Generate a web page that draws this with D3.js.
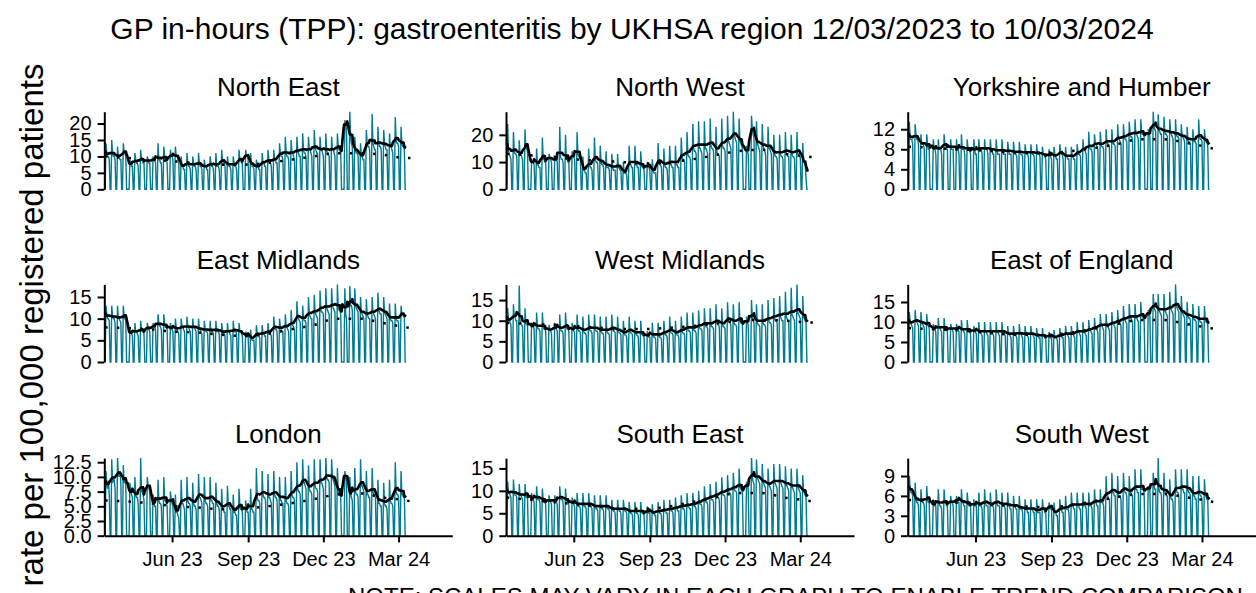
<!DOCTYPE html>
<html>
<head>
<meta charset="utf-8">
<title>GP in-hours gastroenteritis</title>
<style>
  body { margin: 0; background: #fff; }
  svg text { font-family: "Liberation Sans", Arial, sans-serif; fill: #000; }
</style>
</head>
<body>
<div id="chart"></div>
<script src="https://cdn.jsdelivr.net/npm/d3@7"></script>
<script>
// daily rates per 100,000, one row per week (Sun Mon Tue Wed Thu Fri Sat), from Sun 12/03/2023
const northEast = `
0 14 11 10 10 9 0
0 15 11 10 10 9 0
0 13 10 10 9 9 0
0 14 11 11 10 0 0
0 0 9 8 7 7 0
0 11 9 8 8 7 0
0 12 9 9 8 8 0
0 0 10 9 8 8 0
0 0 10 9 9 8 0
0 14 9 9 8 8 0
0 13 10 9 9 8 0
0 0 12 10 10 9 0
0 13 10 10 9 9 0
0 10 7 7 6 6 0
0 11 8 7 7 6 0
0 10 8 7 7 6 0
0 11 8 7 7 6 0
0 9 7 7 6 6 0
0 10 8 7 7 6 0
0 11 7 7 7 6 0
0 12 9 8 8 7 0
0 10 8 7 7 6 0
0 10 8 7 7 6 0
0 12 9 9 8 8 0
0 0 12 10 10 9 0
0 11 8 7 7 6 0
0 9 7 7 6 6 0
0 11 8 8 7 7 0
0 12 9 8 8 7 0
0 12 9 9 8 8 0
0 14 11 10 10 9 0
0 16 11 10 10 9 0
0 15 11 11 10 9 0
0 16 12 11 10 10 0
0 17 12 11 11 10 0
0 16 12 12 11 10 0
0 18 13 12 11 11 0
0 16 12 12 11 10 0
0 17 12 11 11 10 0
0 16 12 12 11 10 0
0 17 13 12 12 11 0
0 0 0 21 20 18 0
0 0 23.6 16 14 13 0
0 16 12 11 11 10 0
0 14 10 10 9 9 0
0 18 14 13 13 12 0
0 23 14 13 12 12 0
0 19 14 13 13 12 0
0 18 14 13 12 12 0
0 17 13 13 12 11 0
0 22 15 14 14 13 0
0 19 14 13 13 12 0
0`;

const northWest = `
0 24 14 13 12 11 0
0 21 14 13 13 12 0
0 18 13 13 12 11 0
0 22 15 15 14 0 0
0 0 11 10 10 9 0
0 15 9 9 8 8 0
0 19 11 11 10 10 0
0 0 13 12 11 10 0
0 0 12 11 11 10 0
0 23 12 11 11 10 0
0 20 11 11 10 10 0
0 0 14 12 12 11 0
0 21 13 12 12 11 0
0 12 7 7 6 6 0
0 15 9 8 8 7 0
0 19 11 10 10 9 0
0 16 10 9 9 8 0
0 14 8 8 8 7 0
0 13 8 7 7 7 0
0 13 8 8 7 7 0
0 10 6 6 6 5 0
0 16 9 9 8 8 0
0 16 9 9 8 8 0
0 14 9 8 8 7 0
0 0 10 9 8 7 0
0 11 7 6 6 6 0
0 17 10 9 9 8 0
0 15 9 8 8 7 0
0 16 9 9 8 8 0
0 16 9 9 8 8 0
0 19 12 11 11 10 0
0 21 13 12 12 11 0
0 24 15 14 14 13 0
0 25 15 15 14 13 0
0 25 15 15 14 13 0
0 26 16 15 15 14 0
0 23 14 13 13 12 0
0 26 16 15 15 14 0
0 27 18 17 16 15 0
0 28.5 20 19 18 17 0
0 26 18 17 16 15 0
0 0 0 16 14 13 0
0 0 27 22 20 19 0
0 25 17 16 15 14 0
0 24 16 15 14 13 0
0 23 15 15 14 13 0
0 20 13 12 12 11 0
0 20 13 12 12 11 0
0 21 13 13 12 12 0
0 20 13 12 12 11 0
0 21 13 13 12 12 0
0 17 11 10 9 4 0
0`;

const yorkshire = `
0 13.5 10 10 10 9 0
0 13 11 10 10 9 0
0 11 9 9 9 8 0
0 11 9 8 8 0 0
0 0 10 8 8 7 0
0 10 8 8 8 7 0
0 11 9 9 8 8 0
0 0 10 8 8 8 0
0 0 10 8 8 7 0
0 11 8 8 8 7 0
0 10 8 8 8 7 0
0 0 10 8 7 7 0
0 10 8 8 8 7 0
0 10 8 8 8 7 0
0 10 8 8 7 7 0
0 10 8 7 7 7 0
0 10 8 7 7 7 0
0 9.5 8 7 7 7 0
0 9.5 7.5 7 7 6.5 0
0 9.5 7.5 7 7 6.5 0
0 9 7.5 7 7 6.5 0
0 9 7.5 7 7 6.5 0
0 9 7 7 7 6.5 0
0 8.5 7 7 6.5 6 0
0 0 8 7 6.5 6 0
0 8.5 7 6.5 6 6 0
0 9 7.5 7 7 6 0
0 8.5 6.5 6.5 6 6 0
0 8.5 6.5 6.5 6 6 0
0 9 7.5 7 7 6.5 0
0 10 8 8 7.5 7 0
0 11.5 8.5 8 8 7.5 0
0 11 9 9 8.5 8 0
0 11.5 9 8.5 8.5 8 0
0 12 9.5 9 9 8.5 0
0 12 9.5 9 9 8.5 0
0 13 10 10 9.5 9 0
0 13 10.5 10 10 9.5 0
0 13.5 11 10.5 10.5 10 0
0 14 11 11 10.5 10 0
0 14 11.5 11 11 10.5 0
0 0 0 12 11 10.5 0
0 0 15.5 12.5 12 11.5 0
0 15 12 11.5 11 11 0
0 14.5 11.5 11 11 10.5 0
0 14 11.5 11 10.5 10 0
0 14 11 10.5 10.5 10 0
0 13 10.5 10.5 10 9.5 0
0 12.5 10 9.5 9.5 9 0
0 12 10 9.5 9.5 9 0
0 14 10.5 10 10 9.5 0
0 12 10 9.5 9.5 8.5 0
0`;

const eastMidlands = `
0 13 11 10 10 9.5 0
0 13 10.5 10 10 9 0
0 13 10 10 9.5 9 0
0 13 10.5 10 9.5 0 0
0 0 7.5 7 6.5 6 0
0 9 7 7 6.5 6 0
0 9.5 7.5 7 7 6.5 0
0 0 9 8 7.5 7 0
0 0 9 8.5 8 7.5 0
0 11 9 8.5 8 7.5 0
0 11 8.5 8 8 7.5 0
0 0 9 8 7.5 7 0
0 10 8 7.5 7 6.5 0
0 10 8 8 7.5 7 0
0 10.5 8 8 7.5 7 0
0 10 8 8 7.5 7 0
0 10 7.5 7.5 7 6.5 0
0 9.5 7.5 7 7 6.5 0
0 9.5 7 7 7 6.5 0
0 9.5 7 7 7 6.5 0
0 9 7 6.5 6.5 6 0
0 9 7 7 6.5 6 0
0 9.5 7 7 7 6.5 0
0 9 7 7 6.5 6 0
0 0 7 6.5 6 6 0
0 7.5 5.5 5 5 5 0
0 8.5 6.5 6 6 5.5 0
0 8.5 6.5 6.5 6 6 0
0 9 7 6.5 6.5 6 0
0 10.5 8 7.5 7.5 7 0
0 10 8 7.5 7 7 0
0 11 8 8 7.5 7 0
0 12 9 8.5 8 7.5 0
0 14 10.5 10 9.5 9 0
0 13 10 9.5 9.5 9 0
0 15 11 10.5 10 10 0
0 15.5 11.5 11 10.5 10 0
0 16.5 12 11.5 11.5 11 0
0 17 12.5 12 11.5 11 0
0 17 13 12.5 12 11.5 0
0 17.9 12.5 12 12 11 0
0 0 0 17 11 10 0
0 0 17.5 13 13 12 0
0 17 13 12.5 12 11.5 0
0 15 11.5 11 10.5 10 0
0 14.5 11 10.5 10 10 0
0 15 11.5 11 10.5 10 0
0 16 12 11.5 11 11 0
0 15 11.5 11 10.5 10 0
0 13.5 10 9.5 9.5 9 0
0 13.5 10 9.5 9.5 9 0
0 13 11 11 10.5 10.5 0
0`;

const westMidlands = `
0 13 10 10 9.5 9 0
0 14 11 11 10 10 0
0 18.5 10 9.5 9 8.5 0
0 13 9.5 9 9 0 0
0 0 9.5 9 8.5 8 0
0 12 8.5 8 8 7.5 0
0 12 8.5 8 8 7.5 0
0 0 9 8 7.5 7 0
0 0 9.5 8.5 8 7.5 0
0 11.5 8 7.5 7.5 7 0
0 12 8.5 8 8 7.5 0
0 0 9.5 8 7.5 7 0
0 11.5 8 7.5 7.5 7 0
0 11 7.5 7 7 6.5 0
0 11.5 8 7.5 7.5 7 0
0 11.5 8 7.5 7.5 7 0
0 11 7.5 7 7 6.5 0
0 11 7.5 7 7 6.5 0
0 11.5 8 7.5 7.5 7 0
0 11 7.5 7 7 6.5 0
0 10 7 6.5 6.5 6 0
0 11 7.5 7 7 6.5 0
0 10 7 6.5 6.5 6 0
0 10 7 6.5 6.5 6 0
0 0 7.5 6.5 6 6 0
0 9.5 6.5 6 6 5.5 0
0 9.5 6.5 6 6 5.5 0
0 10 7 6.5 6.5 6 0
0 11 7.5 7 7 6.5 0
0 10 7 6.5 6.5 6 0
0 11 7.5 7 7 6.5 0
0 12 8 7.5 7.5 7 0
0 12 8 7.5 7.5 7 0
0 12.5 8.5 8 8 7.5 0
0 13 9 8.5 8.5 8 0
0 13 9 8.5 8.5 8 0
0 14 9.5 9 9 8.5 0
0 13 9 8.5 8.5 8 0
0 14.5 10 9.5 9.5 9 0
0 14 9.5 9 9 8.5 0
0 14.5 10 9.5 9.5 9 0
0 0 0 11 9.5 9 0
0 0 15 10.5 10 9.5 0
0 14 9.5 9 9 8.5 0
0 14 9.5 9 9 8.5 0
0 15 10 9.5 9.5 9 0
0 15.5 10.5 10 10 9.5 0
0 16 11 10.5 10 10 0
0 17 11 10.5 10 10 0
0 18 11.5 11 10.5 10 0
0 18.8 12 11.5 11 10.5 0
0 16 11 10.5 10 9.5 0
0`;

const eastOfEngland = `
0 12.5 10 9.5 9 8.5 0
0 13 10.5 10 9.5 9 0
0 12.5 10 9.5 9 8.5 0
0 12 9.5 9 8.5 0 0
0 0 9.5 8.5 8 7.5 0
0 11 8.5 8.5 8 7.5 0
0 11 8.5 8.5 8 7.5 0
0 0 9.5 8.5 8 7.5 0
0 0 9.5 8.5 8 7.5 0
0 10.5 8 8 7.5 7 0
0 10.5 8 8 7.5 7 0
0 0 9 8 7.5 7 0
0 10 7.5 7.5 7 6.5 0
0 10 7.5 7.5 7 6.5 0
0 10 7.5 7.5 7 6.5 0
0 10 7.5 7.5 7 6.5 0
0 10 7.5 7.5 7 6.5 0
0 9 7 7 6.5 6 0
0 9 7 7 6.5 6 0
0 9.5 7 7 6.5 6 0
0 9 7 7 6.5 6 0
0 9 7 7 6.5 6 0
0 8.5 6.5 6.5 6 6 0
0 8.5 6.5 6.5 6 6 0
0 0 7.5 6.5 6 6 0
0 8 6 6 6 5.5 0
0 8.5 6.5 6.5 6 6 0
0 9 7 7 6.5 6 0
0 9 7 7 6.5 6 0
0 10 7.5 7.5 7 6.5 0
0 10 7.5 7.5 7 6.5 0
0 10.5 8 8 7.5 7 0
0 11 8.5 8.5 8 7.5 0
0 12 9 9 8.5 8 0
0 12 9 9 8.5 8 0
0 12.5 9.5 9.5 9 8.5 0
0 13 10 10 9.5 9 0
0 14 10.5 10.5 10 9.5 0
0 14.5 11 11 10.5 10 0
0 14.5 11 11 10.5 10 0
0 15 11.5 11.5 11 10.5 0
0 0 0 13 12 11.5 0
0 0 17 13.5 13 12.5 0
0 17 13 12.5 12 11.5 0
0 17 13 12.5 12 11.5 0
0 17.5 13.5 13 12.5 12 0
0 19.4 14 13.5 13 12.5 0
0 16.5 12.5 12 11.5 11 0
0 15 11.5 11 11 10.5 0
0 14.5 11 10.5 10.5 10 0
0 14 10.5 10 10 9.5 0
0 14 10.5 10 10 9.5 0
0`;

const london = `
0 11 9 8 9 7 0
0 13 9 10 9.5 8 0
0 13.2 10.5 10 11 9 0
0 12 9 9.5 8.5 0 0
0 0 9 7.5 7 6.5 0
0 10 7 6.5 6.5 5.5 0
0 13.2 7.5 7.5 7 6 0
0 0 10 8.5 8 7.5 0
0 0 7 5.5 5 5 0
0 9.5 6 5.5 5.5 5 0
0 10 6 6 5.5 5 0
0 0 7.5 6 5.5 5 0
0 7 4 4 3.5 3 0
0 9.5 5.5 5.5 5 4.5 0
0 10 6 5.5 5.5 5 0
0 9 5.5 5 5 4.5 0
0 10.5 6.5 6.5 6 5.5 0
0 10 6 5.5 5.5 5 0
0 10 6 6 5.5 5.5 0
0 9 5.5 5 5 4.5 0
0 8 4.5 4.5 4 4 0
0 8.5 5 5 4.5 4.5 0
0 7 4 4 3.5 3.5 0
0 8 5 4.5 4.5 4 0
0 0 6 4.5 4 4 0
0 8 4.5 4.5 4 4 0
0 11.5 6.5 6 6 5.5 0
0 11 7 6.5 6.5 6 0
0 10.5 6.5 6.5 6 5.5 0
0 11 7 6.5 6.5 6 0
0 10 6 6 5.5 5.5 0
0 10 6 5.5 5.5 5 0
0 11 7 6.5 6.5 6 0
0 12.5 8 7.5 7.5 7 0
0 13 9 9 8.5 8 0
0 12 8 7.5 7.5 7 0
0 13 8.5 8 8 7.5 0
0 13 9 9 8.5 8 0
0 13.2 10 9.5 9.5 9 0
0 13 10 9.5 9 8.5 0
0 11.5 7.5 7 7 6.5 0
0 0 0 11 10 9.5 0
0 0 10 7 6.5 6 0
0 11.5 7.5 7 7 6.5 0
0 13 8.5 8.5 8 7.5 0
0 11 7 7 6.5 6.5 0
0 11.5 7.5 7 7 6.5 0
0 9.5 5.5 5.5 5 5 0
0 9 5.5 5 5 4.5 0
0 9.5 6 5.5 5.5 5 0
0 12.5 7.5 7 7 6.5 0
0 11 7 7 6.5 6.5 0
0`;

const southEast = `
0 12 9.5 9.5 9 8.5 0
0 12.5 9.5 9 9 8.5 0
0 11.5 9 9 8.5 8 0
0 11.5 9 8.5 8.5 0 0
0 0 9.5 8.5 8 7.5 0
0 11 8.5 8 8 7.5 0
0 10.5 8 7.5 7.5 7 0
0 0 9 8 7.5 7 0
0 0 9 8 7.5 7 0
0 11 8.5 8 8 7.5 0
0 10.5 8 7.5 7.5 7 0
0 0 8.5 7.5 7 6.5 0
0 9.5 7 6.5 6.5 6 0
0 9.5 7 6.5 6.5 6 0
0 9.5 7 6.5 6.5 6 0
0 9 6.5 6 6 5.5 0
0 9 6.5 6 6 5.5 0
0 9 6.5 6 6 5.5 0
0 8 6 5.5 5.5 5 0
0 8 6 5.5 5.5 5 0
0 8 6 5.5 5.5 5 0
0 7.5 5.5 5 5 4.5 0
0 7.5 5.5 5 5 4.5 0
0 7.5 5.5 5 5 4.5 0
0 0 6.5 5.5 5 5 0
0 7 5 5 4.5 4.5 0
0 7.5 5.5 5 5 4.5 0
0 8 5.5 5.5 5 5 0
0 8 6 5.5 5.5 5 0
0 8.5 6 6 5.5 5.5 0
0 9 6.5 6 6 5.5 0
0 9.5 6.5 6.5 6 6 0
0 9.5 7 6.5 6.5 6 0
0 10 7.5 7 7 6.5 0
0 11 8 7.5 7.5 7 0
0 11.5 8.5 8 8 7.5 0
0 12 9 8.5 8.5 8 0
0 13 9.5 9 9 8.5 0
0 13.5 10 9.5 9.5 9 0
0 14 10.5 10 10 9.5 0
0 15 11 10.5 10 10 0
0 0 0 12 11 10.5 0
0 0 17.3 13 12 11.5 0
0 17 13 12.5 12 11.5 0
0 16 12 11.5 11 10.5 0
0 15 11.5 11 10.5 10 0
0 16 12 11.5 11 10.5 0
0 16 12 11.5 11 10.5 0
0 15.5 11.5 11 10.5 10 0
0 15 11 10.5 10 9.5 0
0 15 11 10.5 10 9.5 0
0 13.5 10 9.5 9 8.5 0
0`;

const southWest = `
0 9 7 6.5 6.5 6 0
0 8 5.5 5 5 4.5 0
0 7 5.5 5 5 4.5 0
0 7.5 5.5 5 5 0 0
0 0 5.5 4.5 4.5 4.5 0
0 7 5 4.5 4.5 4 0
0 7 5 5 4.5 4.5 0
0 0 6 5 5 4.5 0
0 0 6 5.5 5 5 0
0 7 5 5 4.5 4.5 0
0 6.5 5 4.5 4.5 4.5 0
0 0 5.5 4.5 4.5 4.5 0
0 6.5 4.5 4.5 4.5 4 0
0 7 5 4.5 4.5 4.5 0
0 6.5 4.5 4.5 4.5 4 0
0 7 5 4.5 4.5 4.5 0
0 6.5 4.5 4.5 4.5 4 0
0 6.5 4.5 4.5 4 4 0
0 6 4.5 4.5 4 4 0
0 6 4 4 4 3.5 0
0 5.5 4 4 3.5 3.5 0
0 5.5 4 4 3.5 3.5 0
0 5.5 3.5 3.5 3.5 3.5 0
0 5.5 4 4 3.5 3.5 0
0 0 5 4.5 4 4 0
0 5 3.5 3.5 3 3 0
0 5.5 4 4 3.5 3.5 0
0 6 4 4 4 3.5 0
0 6.5 4.5 4.5 4 4 0
0 6.5 4.5 4.5 4 4 0
0 6.5 4.5 4.5 4.5 4 0
0 6.5 4.5 4.5 4.5 4 0
0 7 5 5 4.5 4.5 0
0 7 5 5 5 4.5 0
0 9 6 6 5.5 5.5 0
0 9.5 6.5 6.5 6 6 0
0 9 6 6 6 5.5 0
0 9.5 7 6.5 6.5 6 0
0 9 6.5 6.5 6 6 0
0 10 7 7 6.5 6.5 0
0 10 7 7 7 6.5 0
0 0 0 7.5 7 7 0
0 0 9.5 7.5 7 7 0
0 11.7 7 6.5 6.5 6 0
0 9.5 6.5 6.5 6 6 0
0 8.5 6 5.5 5.5 5 0
0 10 7 6.5 6.5 6 0
0 10 7 7 6.5 6.5 0
0 10 7 6.5 6.5 6 0
0 9 6 6 5.5 5.5 0
0 9 6.5 6 6 5.5 0
0 8.5 6 6 5.5 5.5 0
0`;

// baseline (dotted), every 4 weeks from 12/03/2023, last point two weeks past the data
const baselineWeeks = [0, 4, 8, 12, 16, 20, 24, 28, 32, 36, 40, 44, 48, 52, 54];
const baseNE  = [10, 9.5, 9, 8.5, 8, 7.5, 7.5, 8, 9, 10, 11, 11, 10.5, 9.5, 9.5];
const baseNW  = [13, 12.5, 12, 11, 10.5, 10, 9.5, 10, 11, 12.5, 14, 14.5, 13, 12, 11.5];
const baseYH  = [8.5, 8.3, 8, 7.8, 7.5, 7.3, 7.3, 7.6, 8.2, 9, 10, 10, 9.3, 8.3, 7.7];
const baseEM  = [8, 7.8, 7.5, 7, 6.8, 6.3, 6, 6.5, 7.5, 8.5, 10, 10, 9, 8, 7.6];
const baseWM  = [9.5, 9.2, 9, 8.7, 8.3, 8, 8, 8.3, 8.7, 9.3, 10, 10.2, 10, 9.6, 9.5];
const baseEoE = [8.5, 8.2, 8, 7.5, 7, 6.8, 6.8, 7.3, 8.3, 9.5, 10.5, 10.5, 9.5, 8.5, 8];
const baseLon = [6, 5.8, 5.5, 5, 4.8, 4.5, 4.6, 5, 5.5, 6.2, 7, 7.2, 6.5, 6, 5.6];
const baseSE  = [8.5, 8, 7.5, 7, 6.5, 6, 6, 6.5, 7.5, 8.5, 9.5, 9.5, 8.5, 7.8, 7.4];
const baseSW  = [5.4, 5.2, 5, 4.8, 4.6, 4.4, 4.3, 4.6, 5.2, 5.8, 6.3, 6.3, 5.8, 5.2, 4.8];

const regionNames = ["North East", "North West", "Yorkshire and Humber",
  "East Midlands", "West Midlands", "East of England",
  "London", "South East", "South West"];
const dailySeries = [northEast, northWest, yorkshire, eastMidlands, westMidlands,
  eastOfEngland, london, southEast, southWest];
const baselines = [baseNE, baseNW, baseYH, baseEM, baseWM, baseEoE, baseLon, baseSE, baseSW];
const yTickSets = [[0, 5, 10, 15, 20], [0, 10, 20], [0, 4, 8, 12],
  [0, 5, 10, 15], [0, 5, 10, 15], [0, 5, 10, 15],
  [0, 2.5, 5, 7.5, 10, 12.5], [0, 5, 10, 15], [0, 3, 6, 9]];
const bankHolidays = ["2023-04-07", "2023-04-10", "2023-05-01", "2023-05-08", "2023-05-29",
  "2023-08-28", "2023-12-25", "2023-12-26", "2024-01-01"];
const xTickDates = ["2023-06-01", "2023-09-01", "2023-12-01", "2024-03-01"];

const TEAL = "#007b91";
const DAY = 864e5;
const START = Date.UTC(2023, 2, 12);

const W = 1256, H = 593;
const colX = [104.3, 506, 907.7];
const rowBottom = [189.3, 362, 535.7];
const panelW = 348, panelH = 77.6;

const svg = d3.select("#chart").append("svg")
  .attr("width", W).attr("height", H);

svg.append("text")
  .attr("x", 632).attr("y", 39)
  .attr("text-anchor", "middle")
  .style("font-size", "30px")
  .text("GP in-hours (TPP): gastroenteritis by UKHSA region 12/03/2023 to 10/03/2024");

svg.append("text")
  .attr("transform", "translate(43,325) rotate(-90)")
  .attr("text-anchor", "middle")
  .style("font-size", "33px")
  .text("rate per 100,000 registered patients");

svg.append("text")
  .attr("x", 348).attr("y", 605)
  .style("font-size", "24px")
  .text("NOTE: SCALES MAY VARY IN EACH GRAPH TO ENABLE TREND COMPARISON");

const x = d3.scaleUtc()
  .domain([new Date(Date.UTC(2023, 2, 11)), new Date(Date.UTC(2024, 4, 5))])
  .range([0, panelW]);

const bhSet = new Set(bankHolidays);
const fmtDay = d3.utcFormat("%Y-%m-%d");

regionNames.forEach(function (name, i) {
  const col = i % 3, row = Math.floor(i / 3);
  const vals = dailySeries[i].trim().split(/\s+/).map(Number);
  const days = vals.map(function (v, k) {
    const date = new Date(START + k * DAY);
    const wd = date.getUTCDay();
    return { date: date, value: v, working: wd > 0 && wd < 6 && !bhSet.has(fmtDay(date)) };
  });
  // 7 day moving average of the working days around each date
  days.forEach(function (d, k) {
    const win = days.slice(Math.max(0, k - 3), k + 4).filter(function (e) { return e.working; });
    d.avg = win.length ? d3.mean(win, function (e) { return e.value; }) : null;
  });
  const base = baselines[i].map(function (v, k) {
    return { date: new Date(START + baselineWeeks[k] * 7 * DAY), value: v };
  });

  const yMax = d3.max(vals);
  const y = d3.scaleLinear().domain([0, yMax]).range([panelH, 0]);

  const g = svg.append("g")
    .attr("transform", "translate(" + colX[col] + "," + (rowBottom[row] - panelH) + ")");

  g.append("text")
    .attr("x", panelW / 2).attr("y", -15.5)
    .attr("text-anchor", "middle")
    .style("font-size", "26px")
    .text(name);

  g.append("path")
    .datum(days)
    .attr("fill", "none")
    .attr("stroke", TEAL)
    .attr("stroke-width", 1.4)
    .attr("d", d3.line()
      .x(function (d) { return x(d.date); })
      .y(function (d) { return y(d.value); }));

  g.append("path")
    .datum(base)
    .attr("fill", "none")
    .attr("stroke", "#000")
    .attr("stroke-width", 2.5)
    .attr("stroke-dasharray", "2.5,9.2")
    .attr("d", d3.line()
      .curve(d3.curveMonotoneX)
      .x(function (d) { return x(d.date); })
      .y(function (d) { return y(d.value); }));

  g.append("path")
    .datum(days)
    .attr("fill", "none")
    .attr("stroke", "#000")
    .attr("stroke-width", 2.6)
    .attr("stroke-linejoin", "round")
    .attr("d", d3.line()
      .defined(function (d) { return d.avg !== null; })
      .x(function (d) { return x(d.date); })
      .y(function (d) { return y(d.avg); }));

  const yAxis = g.append("g")
    .call(d3.axisLeft(y)
      .tickValues(yTickSets[i])
      .tickSize(6.7).tickSizeOuter(0).tickPadding(6)
      .tickFormat(i === 6 ? d3.format(".1f") : d3.format("d")));
  yAxis.select(".domain").attr("stroke-width", 2);
  yAxis.selectAll(".tick line").attr("stroke-width", 2);
  yAxis.selectAll(".tick text").style("font-size", "20px").attr("fill", "#000");

  if (row === 2) {
    const xAxis = g.append("g")
      .attr("transform", "translate(0," + panelH + ")")
      .call(d3.axisBottom(x)
        .tickValues(xTickDates.map(function (s) { return new Date(s); }))
        .tickSize(6.7).tickSizeOuter(0).tickPadding(9)
        .tickFormat(d3.utcFormat("%b %y")));
    xAxis.select(".domain").attr("stroke-width", 2);
    xAxis.selectAll(".tick line").attr("stroke-width", 2);
    xAxis.selectAll(".tick text").style("font-size", "20px").attr("fill", "#000");
  }
});
</script>
</body>
</html>
